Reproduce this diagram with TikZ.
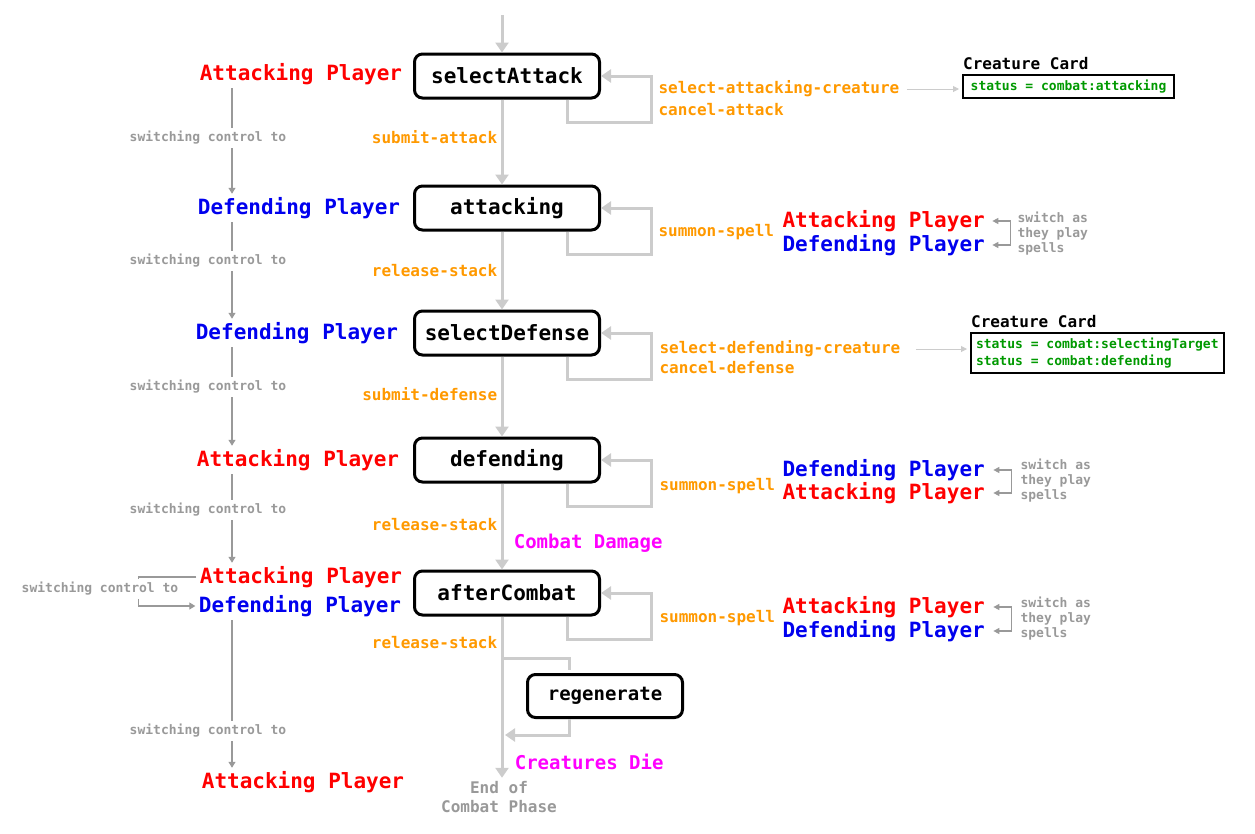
\documentclass[tikz,border=0pt]{standalone}
\usepackage{fontspec}
\setmainfont{DejaVu Sans Mono}
\usetikzlibrary{arrows.meta, positioning}
\definecolor{flowgray}{RGB}{204,204,204}
\definecolor{swgray}{RGB}{153,153,153}
\definecolor{actorange}{RGB}{255,153,0}
\definecolor{cardgreen}{RGB}{0,153,0}
\definecolor{atkred}{RGB}{255,0,0}
\definecolor{defblue}{RGB}{0,0,238}
\definecolor{phasepink}{RGB}{255,0,255}
\tikzstyle{state} = [draw, line width=3pt, rounded corners=8pt, minimum width=185pt, minimum height=44pt, font=\fontsize{21}{25}\selectfont\bfseries]
\tikzstyle{flow} = [draw=flowgray, line width=3pt, -{Triangle[length=10pt,width=13pt]}]
\tikzstyle{loopflow} = [draw=flowgray, line width=3pt, -{Triangle[length=10pt,width=13pt]}]
\tikzstyle{switch} = [draw=swgray, line width=1.2pt]
\tikzstyle{note} = [draw=flowgray, line width=1pt, -{Triangle[length=6pt,width=6pt]}]
\tikzstyle{player} = [font=\fontsize{21}{25}\selectfont\bfseries]
\tikzstyle{attacker} = [player, text=atkred]
\tikzstyle{defender} = [player, text=defblue]
\tikzstyle{action} = [text=actorange, font=\fontsize{16}{20}\selectfont\bfseries]
\tikzstyle{phase} = [text=phasepink, font=\fontsize{19}{23}\selectfont\bfseries]
\tikzstyle{swlabel} = [text=swgray, fill=white, font=\fontsize{13}{15}\selectfont\bfseries]
\tikzstyle{cardtitle} = [font=\fontsize{16}{20}\selectfont\bfseries]
\tikzstyle{cardbox} = [draw, line width=2pt, text=cardgreen, align=left, inner sep=5pt, font=\fontsize{13}{17}\selectfont\bfseries]

\begin{document}
\begin{tikzpicture}[x=1pt,y=-1pt]
  \useasboundingbox (0,0) rectangle (1255,833);

  % states of the combat phase
  \node[state] (selAtt) at (507,76) {selectAttack};
  \node[state] (att) at (507,208) {attacking};
  \node[state] (selDef) at (507,333) {selectDefense};
  \node[state] (def) at (507,460) {defending};
  \node[state] (after) at (507,593) {afterCombat};
  \node[state, minimum width=155pt, minimum height=43pt, font=\fontsize{19}{23}\selectfont\bfseries] (regen) at (605,696) {regenerate};
  \node[text=swgray, align=center, font=\fontsize{16}{19}\selectfont\bfseries] (end) at (499,797) {End of\\Combat Phase};

  \coordinate (start) at (502,15);
  \coordinate (split) at (502,658);
  \coordinate (rejoin) at (505,735);

  % main flow
  \draw[flow] (start) -- (start |- selAtt.north);
  \draw[flow] (start |- selAtt.south) -- node[action, left, pos=0.44] {submit-attack} (start |- att.north);
  \draw[flow] (start |- att.south) -- node[action, left, pos=0.5] {release-stack} (start |- selDef.north);
  \draw[flow] (start |- selDef.south) -- node[action, left, pos=0.47] {submit-defense} (start |- def.north);
  \draw[flow] (start |- def.south) -- node[action, left, pos=0.48] {release-stack}
    node[phase, right, pos=0.69, xshift=7pt] {Combat Damage} (start |- after.north);
  \draw[flow] (start |- after.south) -- node[action, left, pos=0.16] {release-stack}
    node[phase, right, pos=0.9, xshift=8pt] {Creatures Die} (start |- end.north);
  \draw[draw=flowgray, line width=3pt] (split) -| ([xshift=-36pt,yshift=3pt]regen.north);
  \draw[loopflow] ([xshift=-36pt]regen.south) |- (rejoin);

  % loops back to the same state
  \draw[loopflow] ([xshift=60pt]selAtt.south) |- ([xshift=50pt,yshift=-23pt]selAtt.south east) |- (selAtt.east);
  \draw[loopflow] ([xshift=60pt]att.south) |- ([xshift=50pt,yshift=-23pt]att.south east) |- (att.east);
  \draw[loopflow] ([xshift=60pt]selDef.south) |- ([xshift=50pt,yshift=-23pt]selDef.south east) |- (selDef.east);
  \draw[loopflow] ([xshift=60pt]def.south) |- ([xshift=50pt,yshift=-23pt]def.south east) |- (def.east);
  \draw[loopflow] ([xshift=60pt]after.south) |- ([xshift=50pt,yshift=-23pt]after.south east) |- (after.east);

  \node[action, anchor=west] (selAttCr) at (655,89) {select-attacking-creature};
  \node[action, anchor=west] (cancelAtt) at (655,110) {cancel-attack};
  \node[action, anchor=west] (spellA) at (655,232) {summon-spell};
  \node[action, anchor=west] (selDefCr) at (656,349) {select-defending-creature};
  \node[action, anchor=west] (cancelDef) at (656,368) {cancel-defense};
  \node[action, anchor=west] (spellD) at (656,486) {summon-spell};
  \node[action, anchor=west] (spellC) at (656,618) {summon-spell};

  % creature cards
  \node[cardbox, anchor=north west, minimum width=211pt] (card1) at (962,74) {status = combat:attacking};
  \node[cardtitle, anchor=south west, inner sep=1pt] at ([yshift=3pt]card1.north west) {Creature Card};
  \node[cardbox, anchor=north west] (card2) at (970,332) {status = combat:selectingTarget\\status = combat:defending};
  \node[cardtitle, anchor=south west, inner sep=1pt] at ([yshift=3pt]card2.north west) {Creature Card};
  \draw[note] ([xshift=4pt]selAttCr.east) -- ([xshift=-3pt]selAttCr.east -| card1.west);
  \draw[note] ([xshift=12pt]selDefCr.east) -- ([xshift=-3pt]selDefCr.east -| card2.west);

  % players casting spells
  \node[attacker, anchor=west] (spA1) at (779,221) {Attacking Player};
  \node[defender, anchor=west] (spD1) at (779,245) {Defending Player};
  \node[defender, anchor=west] (spD2) at (779,470) {Defending Player};
  \node[attacker, anchor=west] (spA2) at (779,493) {Attacking Player};
  \node[attacker, anchor=west] (spA3) at (779,607) {Attacking Player};
  \node[defender, anchor=west] (spD3) at (779,631) {Defending Player};
  \draw[switch, {Triangle[length=6pt,width=6pt]}-{Triangle[length=6pt,width=6pt]}] ([xshift=4pt]spA1.east) -- ++(18,0) |- ([xshift=4pt]spD1.east);
  \draw[switch, {Triangle[length=6pt,width=6pt]}-{Triangle[length=6pt,width=6pt]}] ([xshift=5pt]spD2.east) -- ++(18,0) |- ([xshift=5pt]spA2.east);
  \draw[switch, {Triangle[length=6pt,width=6pt]}-{Triangle[length=6pt,width=6pt]}] ([xshift=5pt]spA3.east) -- ++(18,0) |- ([xshift=5pt]spD3.east);
  \node[swlabel, anchor=west, align=left, fill=none] at (1014,234) {switch as\\they play\\spells};
  \node[swlabel, anchor=west, align=left, fill=none] at (1017,481) {switch as\\they play\\spells};
  \node[swlabel, anchor=west, align=left, fill=none] at (1017,619) {switch as\\they play\\spells};

  % who has control
  \coordinate (lane) at (232,0);
  \node[attacker] (ctl1) at (301,74) {Attacking Player};
  \node[defender] (ctl2) at (299,208) {Defending Player};
  \node[defender] (ctl3) at (297,333) {Defending Player};
  \node[attacker] (ctl4) at (298,460) {Attacking Player};
  \node[attacker] (ctl5) at (301,577) {Attacking Player};
  \node[defender] (ctl6) at (300,606) {Defending Player};
  \node[attacker] (ctl7) at (303,782) {Attacking Player};
  \draw[switch, -{Triangle[length=6pt,width=7pt]}] (ctl1.south -| lane) -- node[swlabel, pos=0.47, xshift=-24pt] {switching control to} (ctl2.north -| lane);
  \draw[switch, -{Triangle[length=6pt,width=7pt]}] (ctl2.south -| lane) -- node[swlabel, pos=0.4, xshift=-24pt] {switching control to} (ctl3.north -| lane);
  \draw[switch, -{Triangle[length=6pt,width=7pt]}] (ctl3.south -| lane) -- node[swlabel, pos=0.4, xshift=-24pt] {switching control to} (ctl4.north -| lane);
  \draw[switch, -{Triangle[length=6pt,width=7pt]}] (ctl4.south -| lane) -- node[swlabel, pos=0.4, xshift=-24pt] {switching control to} (ctl5.north -| lane);
  \draw[switch, -{Triangle[length=6pt,width=7pt]}] (ctl6.south -| lane) -- node[swlabel, pos=0.75, xshift=-24pt] {switching control to} (ctl7.north -| lane);
  \draw[switch, -{Triangle[length=6pt,width=7pt]}] (ctl5.west) -- ++(-58,0) |- (ctl6.west);
  \node[swlabel] at (100,589) {switching control to};
\end{tikzpicture}
\end{document}
